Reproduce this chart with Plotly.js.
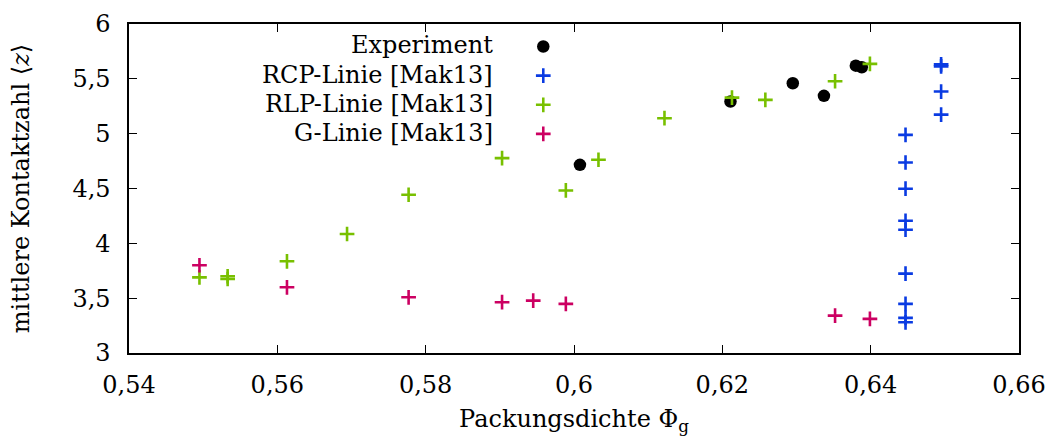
<!DOCTYPE html>
<html>
<head>
<meta charset="utf-8">
<script src="https://cdn.plot.ly/plotly-3.0.1.min.js"></script>
<style>html,body{margin:0;padding:0;background:#fff;}#chart{width:1053px;height:443px;}</style>
</head>
<body>
<div id="chart"></div>
<script>
// Data
const seriesNames = ["Experiment", "RCP-Linie [Mak13]", "RLP-Linie [Mak13]", "G-Linie [Mak13]"];

const expX = [0.6008, 0.6211, 0.6295, 0.6337, 0.6380, 0.6388];
const expY = [4.716, 5.293, 5.460, 5.345, 5.620, 5.606];

const rcpX = [0.6447, 0.6447, 0.6447, 0.6447, 0.6447, 0.6447, 0.6447, 0.6447, 0.6447, 0.6495, 0.6495, 0.6495, 0.6495];
const rcpY = [4.989, 4.737, 4.498, 4.206, 4.124, 3.724, 3.448, 3.320, 3.280, 5.632, 5.614, 5.384, 5.174];

const rlpX = [0.5495, 0.5533, 0.5533, 0.5613, 0.5694, 0.5777, 0.5903, 0.5989, 0.6033, 0.6122, 0.6213, 0.6258, 0.6352, 0.6399];
const rlpY = [3.690, 3.700, 3.675, 3.836, 4.085, 4.443, 4.777, 4.482, 4.762, 5.141, 5.329, 5.308, 5.478, 5.636];

const gX = [0.5495, 0.5613, 0.5777, 0.5903, 0.5945, 0.5989, 0.6352, 0.6399];
const gY = [3.800, 3.599, 3.508, 3.463, 3.478, 3.448, 3.341, 3.311];

const xTicks = [0.54, 0.56, 0.58, 0.60, 0.62, 0.64, 0.66];
const xTickText = ["0,54", "0,56", "0,58", "0,6", "0,62", "0,64", "0,66"];
const yTicks = [3, 3.5, 4, 4.5, 5, 5.5, 6];
const yTickText = ["3", "3,5", "4", "4,5", "5", "5,5", "6"];

const colors = ["#000000", "#0a3be2", "#78c000", "#cc0062"];
const FONT = "DejaVu Serif";

function crossTrace(x, y, c) {
  return {
    x: x, y: y, type: "scatter", mode: "markers", name: "",
    marker: {symbol: "cross-thin", size: 10.5, color: c, line: {color: c, width: 2.6}},
    hoverinfo: "x+y"
  };
}

const traces = [
  {x: expX, y: expY, type: "scatter", mode: "markers", name: "",
   marker: {symbol: "circle", size: 12.5, color: colors[0]}, hoverinfo: "x+y"},
  crossTrace(rcpX, rcpY, colors[1]),
  crossTrace(rlpX, rlpY, colors[2]),
  crossTrace(gX, gY, colors[3])
];

// legend labels as text, right-aligned left of the legend symbols
const legRowsY = [0.936, 0.846, 0.756, 0.668];
const annotations = seriesNames.map((n, i) => ({
  text: n, xref: "paper", yref: "paper", x: 0.4112, y: legRowsY[i],
  xanchor: "right", yanchor: "middle", showarrow: false,
  font: {family: FONT, size: 24, color: "#000"}
}));

const axisCommon = {
  showgrid: false, zeroline: false, showline: true, linecolor: "#000", linewidth: 1.6,
  mirror: "ticks", ticks: "inside", ticklen: 8, tickwidth: 1, tickcolor: "#000",
  tickfont: {family: FONT, size: 24, color: "#000"}
};

const layout = {
  width: 1053, height: 443,
  margin: {l: 129, r: 34, t: 24, b: 89.5},
  paper_bgcolor: "#fff", plot_bgcolor: "#fff",
  separators: ", ",
  font: {family: FONT},
  showlegend: true,
  legend: {x: 0.443, y: 0.991, xanchor: "left", yanchor: "top",
           bgcolor: "rgba(0,0,0,0)", borderwidth: 0, tracegroupgap: 0,
           font: {family: FONT, size: 20.1, color: "#000"}},
  xaxis: Object.assign({}, axisCommon, {
    range: [0.54, 0.66], tickvals: xTicks, ticktext: xTickText, ticklabelstandoff: 10,
    title: {text: "Packungsdichte Φ<sub>g</sub>", font: {family: FONT, size: 24, color: "#000"}, standoff: 12}
  }),
  yaxis: Object.assign({}, axisCommon, {
    range: [3, 6], tickvals: yTicks, ticktext: yTickText, ticklabelstandoff: 12,
    title: {text: "mittlere Kontaktzahl ⟨<i>z</i>⟩", font: {family: FONT, size: 24, color: "#000"}, standoff: 36}
  }),
  annotations: annotations
};

Plotly.newPlot("chart", traces, layout, {displayModeBar: false, staticPlot: true});
</script>
</body>
</html>
